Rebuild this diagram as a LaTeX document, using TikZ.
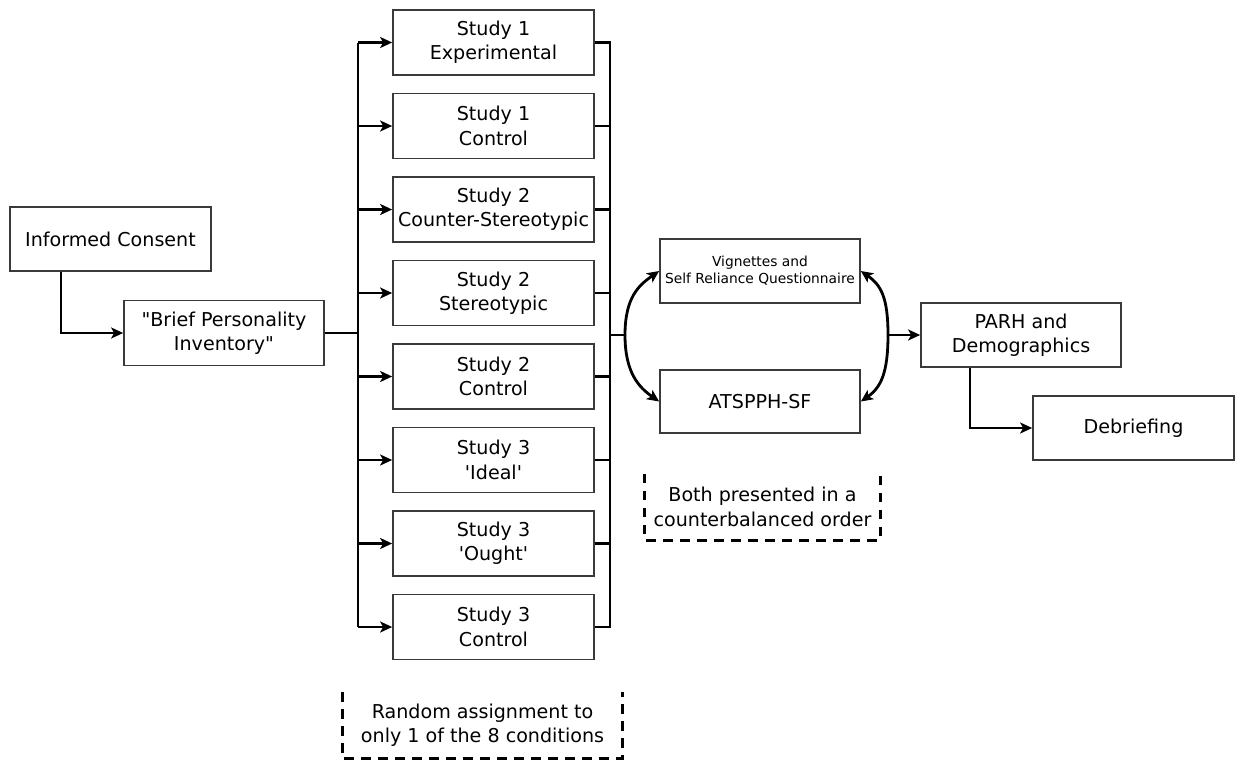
\documentclass[tikz,border=0pt]{standalone}
\usepackage{fontspec}
\setmainfont{DejaVu Sans}
\usetikzlibrary{arrows.meta}
\definecolor{boxgray}{HTML}{3A3A3A}
\begin{document}
\begin{tikzpicture}[x=1pt,y=-1pt,
  box/.style={draw=boxgray, line width=1.7pt, fill=white, minimum width=201pt,
    minimum height=65pt, inner sep=0pt, align=center, text=black,
    font=\fontsize{19.1}{24.3}\selectfont},
  smallbox/.style={box, font=\fontsize{13.8}{17}\selectfont},
  note/.style={minimum width=#1, minimum height=66pt, inner sep=0pt, align=center,
    font=\fontsize{19.1}{24.3}\selectfont},
  ln/.style={line width=2.8pt, black},
  arr/.style={ln, -{Stealth[length=12pt,width=11pt,inset=3pt]}},
  dsh/.style={line width=2.8pt, black, dash pattern=on 9.5pt off 7.5pt}
]
\useasboundingbox (0,0) rectangle (1243,764);

% left side
\node[box, minimum height=64pt] (ic) at (110.5,239) {Informed Consent};
\node[box, minimum width=200pt] (bpi) at (224,333) {\textquotedbl Brief Personality\\Inventory\textquotedbl};

% study boxes
\node[box] (s1) at (493.5,42.5) {Study 1\\Experimental};
\node[box] (s2) at (493.5,126) {Study 1\\Control};
\node[box] (s3) at (493.5,209.5) {Study 2\\Counter-Stereotypic};
\node[box] (s4) at (493.5,293) {Study 2\\Stereotypic};
\node[box] (s5) at (493.5,376.5) {Study 2\\Control};
\node[box] (s6) at (493.5,460) {Study 3\\\textquotesingle Ideal\textquotesingle};
\node[box] (s7) at (493.5,543.5) {Study 3\\\textquotesingle Ought\textquotesingle};
\node[box] (s8) at (493.5,627) {Study 3\\Control};

% middle boxes
\node[smallbox, minimum width=200pt, minimum height=64pt] (vig) at (760,271) {Vignettes and\\Self Reliance Questionnaire};
\node[box, minimum width=200pt, minimum height=63pt] (ats) at (760,401.5) {ATSPPH-SF};

% right boxes
\node[box, minimum width=200pt, minimum height=64pt] (parh) at (1021,335) {PARH and\\Demographics};
\node[box, minimum height=64pt] (deb) at (1133.5,428) {Debriefing};

% notes
\node[note=235pt] (both) at (762.5,507) {Both presented in a\\counterbalanced order};
\node[note=279pt] (rand) at (482.5,725.5) {Random assignment to\\only 1 of the 8 conditions};
\draw[dsh] (both.north west) -- (both.south west) -- (both.south east) -- (both.north east);
\draw[dsh] (rand.north west) -- (rand.south west) -- (rand.south east) -- (rand.north east);

% junction coordinates
\coordinate (lb) at (358,333);
\coordinate (rb) at (610,335);
\coordinate (jl) at (625,335);
\coordinate (jr) at (888,335);

% connectors
\draw[arr] ([xshift=-49.5pt]ic.south) |- (bpi.west);
\draw[ln] (bpi.east) -- (lb);
\draw[ln] (s1.west -| lb) -- (s8.west -| lb);
\foreach \i in {1,...,8} {
  \draw[arr] (s\i.west -| lb) -- (s\i.west);
}
\draw[ln] (s1.east) -- (s1.east -| rb) -- (s8.east -| rb) -- (s8.east);
\foreach \i in {2,...,7} {
  \draw[ln] (s\i.east) -- (s\i.east -| rb);
}
\draw[ln] (rb) -- (jl);
\draw[arr] (jl) .. controls +(0,-38) and +(-20,14) .. (vig.west);
\draw[arr] (jl) .. controls +(0,38) and +(-20,-14) .. (ats.west);
\draw[arr] (jr) .. controls +(0,-38) and +(20,14) .. (vig.east);
\draw[arr] (jr) .. controls +(0,38) and +(20,-14) .. (ats.east);
\draw[arr] (jr) -- (parh.west);
\draw[arr] ([xshift=-51pt]parh.south) |- (deb.west);
\end{tikzpicture}
\end{document}
